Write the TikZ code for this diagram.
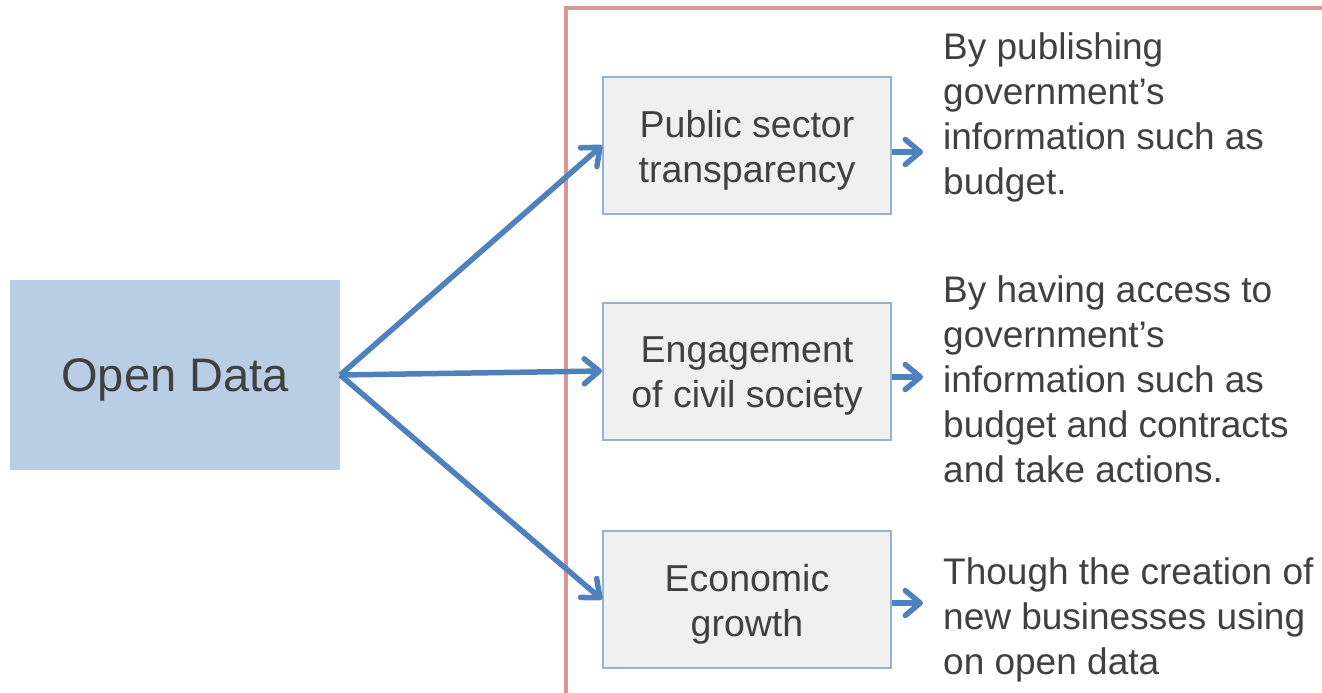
\documentclass[tikz,border=0pt]{standalone}
\usepackage{fontspec}
\setmainfont{Liberation Sans}
\usetikzlibrary{arrows.meta}
\definecolor{odfill}{HTML}{B9CDE5}
\definecolor{boxfill}{HTML}{F0F0F0}
\definecolor{boxline}{HTML}{95B3D7}
\definecolor{arrowblue}{HTML}{4F81BD}
\definecolor{frame}{HTML}{D99694}
\definecolor{txt}{HTML}{404040}
\tikzset{
  mainbox/.style={fill=odfill, draw=none, minimum width=330pt, minimum height=190pt, inner sep=0pt},
  sidebox/.style={fill=boxfill, draw=boxline, line width=2pt, minimum width=288pt, minimum height=137pt, inner sep=0pt},
  boxtext/.style={align=center, inner sep=0pt, text=txt, font=\fontsize{37.5}{45}\selectfont},
  maintext/.style={inner sep=0pt, text=txt, font=\fontsize{47}{56}\selectfont},
  desc/.style={anchor=west, align=left, inner sep=0pt, text=txt, font=\fontsize{37}{45}\selectfont},
  conn/.style={draw=arrowblue, line width=5.5pt, -{Straight Barb[length=15pt,width=25pt,line width=5.5pt,round]}},
}
\begin{document}
\begin{tikzpicture}[x=1pt,y=-1pt]
\useasboundingbox (0,0) rectangle (1322,693);
\draw[frame, line width=4pt] (566,700) -- (566,8) -- (1330,8);
\node[mainbox] (od) at (175,375) {};
\node[maintext] (odt) at (175,380) {Open Data};
\node[sidebox] (ps) at (747,145.5) {};
\node[sidebox] (cs) at (747,371) {};
\node[sidebox] (eg) at (747,599.5) {};
\node[boxtext] (pst) at (747,150.5) {Public sector\\transparency};
\node[boxtext] (cst) at (747,376) {Engagement\\of civil society};
\node[boxtext] (egt) at (747,604.5) {Economic\\growth};
\node[desc] (d1) at (943,117) {By publishing\\government’s\\information such as\\budget.};
\node[desc] (d2) at (943,379) {By having access to\\government’s\\information such as\\budget and contracts\\and take actions.};
\node[desc] (d3) at (943,620) {Though the creation of\\new businesses using\\on open data};
\coordinate (e1) at (923,152);
\coordinate (e2) at (923,377);
\coordinate (e3) at (923,603);
\draw[conn] (od.east) -- (ps.west);
\draw[conn] (od.east) -- (cs.west);
\draw[conn] (od.east) -- (eg.west);
\draw[conn] (ps.east |- e1) -- (e1);
\draw[conn] (cs.east |- e2) -- (e2);
\draw[conn] (eg.east |- e3) -- (e3);
\end{tikzpicture}
\end{document}
